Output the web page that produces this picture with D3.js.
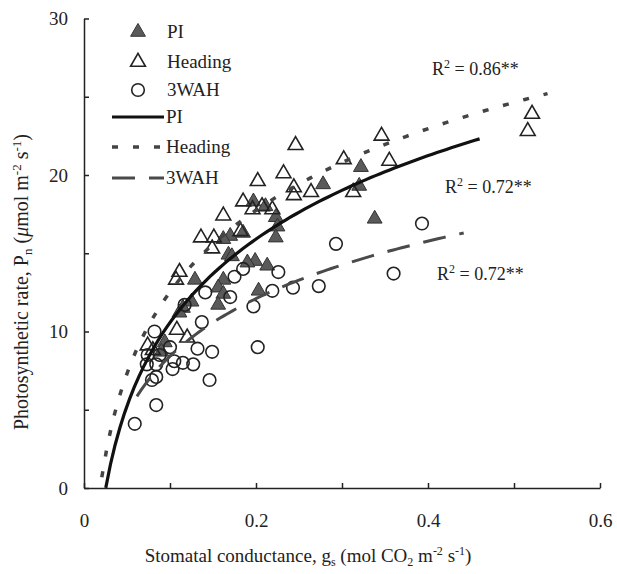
<!DOCTYPE html>
<html>
<head>
<meta charset="utf-8">
<script src="https://cdn.jsdelivr.net/npm/d3@7"></script>
<style>
  body { margin: 0; background: #fff; }
  text { font-family: "Liberation Serif", "DejaVu Serif", serif; fill: #222; }
</style>
</head>
<body>
<div id="chart"></div>
<script>
// Scatter data: stomatal conductance (gs) vs photosynthetic rate (Pn)
const piGs = [0.322, 0.278, 0.320, 0.338, 0.197, 0.211, 0.223, 0.225, 0.223, 0.170, 0.162, 0.185, 0.168, 0.172,
  0.199, 0.190, 0.213, 0.129, 0.162, 0.156, 0.162, 0.156, 0.203, 0.125, 0.115, 0.111, 0.094, 0.090];
const piPn = [20.5, 19.4, 19.3, 17.2, 18.3, 18.0, 17.3, 16.7, 16.0, 16.1, 15.9, 16.3, 14.9, 14.8,
  14.5, 14.4, 14.2, 13.3, 13.3, 12.8, 12.4, 11.7, 12.6, 11.9, 11.5, 11.2, 9.3, 8.7];

const headingGs = [0.521, 0.516, 0.346, 0.246, 0.302, 0.355, 0.313, 0.264, 0.232, 0.244, 0.244, 0.202, 0.185, 0.196,
  0.207, 0.219, 0.162, 0.182, 0.136, 0.151, 0.149, 0.107, 0.111, 0.074, 0.108, 0.120, 0.080];
const headingPn = [23.9, 22.8, 22.5, 21.9, 21.0, 20.9, 18.9, 18.9, 20.1, 19.2, 18.7, 19.6, 18.3, 17.8,
  18.0, 17.8, 17.4, 16.4, 16.0, 16.0, 15.3, 13.3, 13.8, 9.1, 10.1, 9.6, 8.8];

const wahGs = [0.393, 0.293, 0.360, 0.273, 0.243, 0.219, 0.226, 0.185, 0.175, 0.141, 0.170, 0.197, 0.137, 0.117,
  0.082, 0.202, 0.132, 0.149, 0.100, 0.074, 0.088, 0.073, 0.084, 0.105, 0.115, 0.127, 0.103, 0.084,
  0.079, 0.146, 0.084, 0.059];
const wahPn = [16.9, 15.6, 13.7, 12.9, 12.8, 12.6, 13.8, 14.0, 13.5, 12.5, 12.2, 11.6, 10.6, 11.7,
  10.0, 9.0, 8.9, 8.7, 9.0, 8.5, 8.5, 7.9, 7.9, 8.1, 8.0, 7.9, 7.6, 7.1,
  6.9, 6.9, 5.3, 4.1];

// Logarithmic fits Pn = a*ln(gs) + b, as drawn on the figure
const fitNames = ['PI', 'Heading', '3WAH'];
const fitSlope = [7.69, 7.52, 5.30];
const fitIntercept = [28.28, 29.85, 20.63];
const fitStart = [0.0253, 0.0207, 0.0615];
const fitEnd = [0.46, 0.539, 0.4415];
const fitR2 = ['0.72', '0.86', '0.72'];

// Axis ticks
const xTicks = [0, 0.1, 0.2, 0.3, 0.4, 0.5, 0.6];
const xTickLabels = ['0', '', '0.2', '', '0.4', '', '0.6'];
const yTicks = [0, 5, 10, 15, 20, 25, 30];
const yTickLabels = ['0', '', '10', '', '20', '', '30'];

const W = 617, H = 574;
const svg = d3.select('#chart').append('svg')
  .attr('width', W)
  .attr('height', H);

const x = d3.scaleLinear().domain([0, 0.6]).range([84, 600]);
const y = d3.scaleLinear().domain([0, 30]).range([488, 18.5]);

// X axis (inward ticks)
const xAxis = svg.append('g')
  .attr('transform', `translate(0,${y(0)})`)
  .call(d3.axisBottom(x)
    .tickValues(xTicks)
    .tickSizeInner(-5)
    .tickSizeOuter(0)
    .tickPadding(26)
    .tickFormat((d, i) => xTickLabels[i]));
xAxis.selectAll('text').style('font-size', '19px').attr('fill', '#222');

// Y axis (inward ticks)
const yAxis = svg.append('g')
  .attr('transform', `translate(${x(0)},0)`)
  .call(d3.axisLeft(y)
    .tickValues(yTicks)
    .tickSizeInner(-5)
    .tickSizeOuter(0)
    .tickPadding(16)
    .tickFormat((d, i) => yTickLabels[i]));
yAxis.selectAll('text').style('font-size', '19px').attr('fill', '#222');

svg.selectAll('.domain, .tick line').attr('stroke', '#222').attr('stroke-width', 1.5);

// X axis title
const xTitle = svg.append('text')
  .attr('x', 308)
  .attr('y', 562)
  .attr('text-anchor', 'middle')
  .style('font-size', '19px');
xTitle.append('tspan').text('Stomatal conductance, g');
xTitle.append('tspan').attr('dy', 4).style('font-size', '12px').text('s');
xTitle.append('tspan').attr('dy', -4).text(' (mol CO');
xTitle.append('tspan').attr('dy', 4).style('font-size', '12px').text('2');
xTitle.append('tspan').attr('dy', -4).text(' m');
xTitle.append('tspan').attr('dy', -7).style('font-size', '12px').text('-2');
xTitle.append('tspan').attr('dy', 7).text(' s');
xTitle.append('tspan').attr('dy', -7).style('font-size', '12px').text('-1');
xTitle.append('tspan').attr('dy', 7).text(')');

// Y axis title
const yTitle = svg.append('text')
  .attr('transform', 'translate(28,282) rotate(-90)')
  .attr('text-anchor', 'middle')
  .style('font-size', '20px');
yTitle.append('tspan').text('Photosynthetic rate, P');
yTitle.append('tspan').attr('dy', 4).style('font-size', '13px').text('n');
yTitle.append('tspan').attr('dy', -4).text(' (');
yTitle.append('tspan').style('font-style', 'italic').text('\u03bc');
yTitle.append('tspan').text('mol m');
yTitle.append('tspan').attr('dy', -7).style('font-size', '13px').text('-2');
yTitle.append('tspan').attr('dy', 7).text(' s');
yTitle.append('tspan').attr('dy', -7).style('font-size', '13px').text('-1');
yTitle.append('tspan').attr('dy', 7).text(')');

// Points
const tri = d3.symbol().type(d3.symbolTriangle).size(95);
const pts = svg.append('g');

pts.selectAll('.pi')
  .data(piGs.map((g, i) => [g, piPn[i]]))
  .enter()
  .append('path')
  .attr('class', 'pi')
  .attr('d', tri)
  .attr('transform', d => `translate(${x(d[0])},${y(d[1])})`)
  .attr('fill', '#5a5a5a')
  .attr('stroke', '#333')
  .attr('stroke-width', 1);

pts.selectAll('.heading')
  .data(headingGs.map((g, i) => [g, headingPn[i]]))
  .enter()
  .append('path')
  .attr('class', 'heading')
  .attr('d', tri)
  .attr('transform', d => `translate(${x(d[0])},${y(d[1])})`)
  .attr('fill', 'none')
  .attr('stroke', '#222')
  .attr('stroke-width', 1.6);

pts.selectAll('.wah')
  .data(wahGs.map((g, i) => [g, wahPn[i]]))
  .enter()
  .append('circle')
  .attr('class', 'wah')
  .attr('cx', d => x(d[0]))
  .attr('cy', d => y(d[1]))
  .attr('r', 6.3)
  .attr('fill', 'none')
  .attr('stroke', '#222')
  .attr('stroke-width', 1.6);

// Fitted curves
const lineStyles = [
  { color: '#111', width: 3.2, dash: null },
  { color: '#444', width: 3.5, dash: '6,15' },
  { color: '#4a4a4a', width: 3, dash: '23,14' }
];
const line = d3.line().x(d => x(d[0])).y(d => y(d[1]));

fitNames.forEach((name, k) => {
  const n = 80;
  const curve = d3.range(n).map(i => {
    const g = fitStart[k] + (fitEnd[k] - fitStart[k]) * i / (n - 1);
    return [g, fitSlope[k] * Math.log(g) + fitIntercept[k]];
  });
  svg.append('path')
    .datum(curve)
    .attr('d', line)
    .attr('fill', 'none')
    .attr('stroke', lineStyles[k].color)
    .attr('stroke-width', lineStyles[k].width)
    .attr('stroke-dasharray', lineStyles[k].dash);
});

// R² labels
const r2Pos = [[445, 193], [432, 75], [437, 280]];
fitR2.forEach((v, k) => {
  const t = svg.append('text')
    .attr('x', r2Pos[k][0])
    .attr('y', r2Pos[k][1])
    .style('font-size', '18px');
  t.append('tspan').text('R');
  t.append('tspan').attr('dy', -7).style('font-size', '12px').text('2');
  t.append('tspan').attr('dy', 7).text(` = ${v}**`);
});

// Legend
const legend = svg.append('g');
const markerRows = [32, 62, 90];
legend.append('path').attr('d', tri)
  .attr('transform', `translate(138,${markerRows[0]})`)
  .attr('fill', '#5a5a5a').attr('stroke', '#333');
legend.append('path').attr('d', tri)
  .attr('transform', `translate(138,${markerRows[1]})`)
  .attr('fill', 'none').attr('stroke', '#222').attr('stroke-width', 1.6);
legend.append('circle')
  .attr('cx', 138).attr('cy', markerRows[2]).attr('r', 6.3)
  .attr('fill', 'none').attr('stroke', '#222').attr('stroke-width', 1.6);
fitNames.forEach((name, k) => {
  legend.append('text')
    .attr('x', 167)
    .attr('y', markerRows[k] + 6)
    .style('font-size', '19px')
    .text(name);
});

const lineRows = [117, 147, 178];
fitNames.forEach((name, k) => {
  legend.append('line')
    .attr('x1', 112).attr('x2', 164)
    .attr('y1', lineRows[k]).attr('y2', lineRows[k])
    .attr('stroke', lineStyles[k].color)
    .attr('stroke-width', lineStyles[k].width)
    .attr('stroke-dasharray', lineStyles[k].dash);
  legend.append('text')
    .attr('x', 166)
    .attr('y', lineRows[k] + 6)
    .style('font-size', '19px')
    .text(name);
});
</script>
</body>
</html>
